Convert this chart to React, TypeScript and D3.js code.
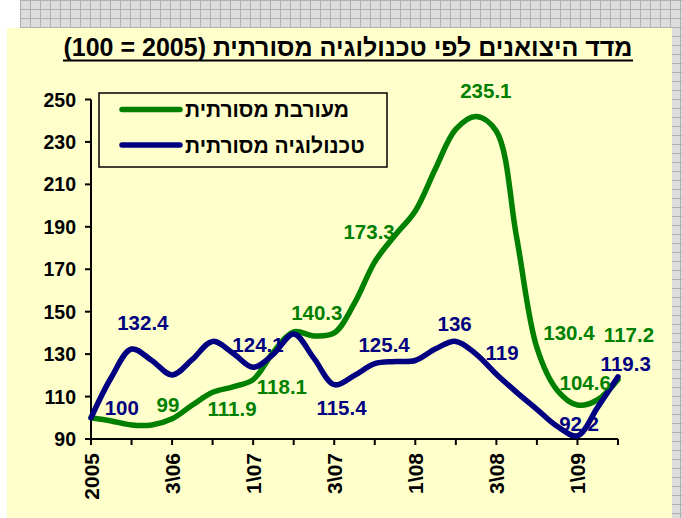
import React from "react";
import * as d3 from "d3";

// ---------- data ----------
const periods = [0, 0.5, 1, 1.5, 2, 2.5, 3, 3.5, 4, 4.5, 5, 5.5, 6, 6.5, 7, 7.5, 8, 8.5, 9, 9.5, 10, 10.5, 11, 11.5, 12, 12.5, 13];
const mixedTraditional = [100, 98.5, 96.6, 96.6, 99.5, 106, 112, 114.6, 118, 131, 140.5, 138.6, 140, 154, 173.5, 186, 197.5, 217.5, 236, 242, 235, 185, 133, 113, 106, 108.5, 118];
const traditionalTech = [100, 119, 132.4, 127, 120.2, 127.5, 136, 130.5, 123.8, 130, 139.5, 128, 115.6, 120, 125.5, 126.5, 127, 132.5, 136, 130, 120.5, 112, 104, 96, 91.5, 105, 119.3];

const xTickLabels = ["2005", "", "3\\06", "", "1\\07", "", "3\\07", "", "1\\08", "", "3\\08", "", "1\\09", ""];
const yTicks = [90, 110, 130, 150, 170, 190, 210, 230, 250];

const seriesNames = ["מעורבת מסורתית", "טכנולוגיה מסורתית"];
const title = "מדד היצואנים לפי טכנולוגיה מסורתית (2005 = 100)";

// data labels: text, period position, value
const greenLabels = ["99", "111.9", "118.1", "140.3", "173.3", "235.1", "130.4", "104.6", "117.2"];
const greenLabelAt = [1.9, 3.48, 4.71, 5.57, 6.86, 9.74, 11.79, 12.19, 13.27];
const blueLabels = ["100", "132.4", "124.1", "115.4", "125.4", "136", "119", "92.2", "119.3"];
const blueLabelAt = [0.76, 1.28, 4.12, 6.18, 7.23, 8.97, 10.14, 12.04, 13.19];
// vertical offsets of labels from their values (layout)
const greenLabelDy = [-15, 16, 7, -20, -31, -40, -21, -25, -47];
const blueLabelDy = [-10, -26, -22, 23, -19, -18, -25, -11, -13];

// ---------- layout ----------
const W = 682, H = 518;
const GREEN = "#008000";
const BLUE = "#000080";
const FONT = "'Liberation Sans', Arial, 'DejaVu Sans', sans-serif";

export default function App() {
  const x = d3.scaleLinear().domain([0, 13]).range([91, 618]);
  const y = d3.scaleLinear().domain([90, 250]).range([439, 99.5]);

  const line = d3
    .line<number>()
    .x((_, i) => x(periods[i]))
    .y((d) => y(d))
    .curve(d3.curveCatmullRom.alpha(0.5));

  const ticksX = d3.range(xTickLabels.length);

  return (
    <div style={{ position: "fixed", left: 0, top: 0, width: W, height: H }}>
      <svg width={W} height={H} style={{ display: "block", fontFamily: FONT }}>
        <defs>
          <pattern id="chk" width="10" height="9" patternUnits="userSpaceOnUse">
            <rect width="10" height="9" fill="#dcdcdc" />
            <path d="M0.5 0 V9 M0 0.5 H10" stroke="#b0b0b0" strokeWidth="1" />
          </pattern>
        </defs>
        <rect width={W} height={H} fill="#ffffff" />
        <rect x={20} y={0} width={W - 20} height={29} fill="url(#chk)" />
        <rect x={672} y={0} width={10} height={H} fill="url(#chk)" />
        <rect x={7} y={28} width={665} height={H - 28} fill="#FFFFCC" />

        {/* title */}
        <text
          x={348}
          y={56}
          textAnchor="middle"
          direction="rtl"
          fontSize={25}
          fontWeight="bold"
          fill="#000"
        >
          {title}
        </text>
        <line x1={63} x2={633} y1={60.5} y2={60.5} stroke="#000" strokeWidth={2} />

        {/* y axis */}
        <line x1={91} x2={91} y1={y(250)} y2={y(90)} stroke="#000" strokeWidth={2} />
        {yTicks.map((t) => (
          <g key={t}>
            <line x1={85} x2={91} y1={y(t)} y2={y(t)} stroke="#000" strokeWidth={2} />
            <text x={76} y={y(t)} dy="0.36em" textAnchor="end" fontSize={19.5} fontWeight="bold" fill="#000">
              {t}
            </text>
          </g>
        ))}

        {/* x axis */}
        <line x1={x(0)} x2={x(13)} y1={y(90)} y2={y(90)} stroke="#000" strokeWidth={2} />
        {ticksX.map((i) => (
          <g key={i}>
            <line x1={x(i)} x2={x(i)} y1={y(90)} y2={y(90) + 6} stroke="#000" strokeWidth={2} />
            {xTickLabels[i] && (
              <text
                transform={`translate(${x(i)},${453}) rotate(-90)`}
                dy="0.36em"
                textAnchor="end"
                fontSize={21}
                fontWeight="bold"
                fill="#000"
              >
                {xTickLabels[i]}
              </text>
            )}
          </g>
        ))}

        {/* lines */}
        <path d={line(mixedTraditional) || ""} fill="none" stroke={GREEN} strokeWidth={5.5} strokeLinejoin="round" strokeLinecap="round" />
        <path d={line(traditionalTech) || ""} fill="none" stroke={BLUE} strokeWidth={5.5} strokeLinejoin="round" strokeLinecap="round" />

        {/* data labels */}
        {greenLabels.map((s, i) => (
          <text
            key={"g" + i}
            x={x(greenLabelAt[i])}
            y={y(parseFloat(s)) + greenLabelDy[i]}
            dy="0.36em"
            textAnchor="middle"
            fontSize={20.5}
            fontWeight="bold"
            fill={GREEN}
          >
            {s}
          </text>
        ))}
        {blueLabels.map((s, i) => (
          <text
            key={"b" + i}
            x={x(blueLabelAt[i])}
            y={y(parseFloat(s)) + blueLabelDy[i]}
            dy="0.36em"
            textAnchor="middle"
            fontSize={20.5}
            fontWeight="bold"
            fill={BLUE}
          >
            {s}
          </text>
        ))}

        {/* legend */}
        <rect x={99} y={93} width={288} height={74} fill="#FFFFCC" stroke="#000" strokeWidth={1.5} />
        {seriesNames.map((name, i) => (
          <g key={name}>
            <line
              x1={122}
              x2={180}
              y1={109.5 + i * 35.5}
              y2={109.5 + i * 35.5}
              stroke={i === 0 ? GREEN : BLUE}
              strokeWidth={5.5}
              strokeLinecap="round"
            />
            <text x={185} y={109.5 + i * 35.5} dy="0.36em" fontSize={21} fontWeight="bold" fill="#000">
              {name}
            </text>
          </g>
        ))}
      </svg>
    </div>
  );
}
